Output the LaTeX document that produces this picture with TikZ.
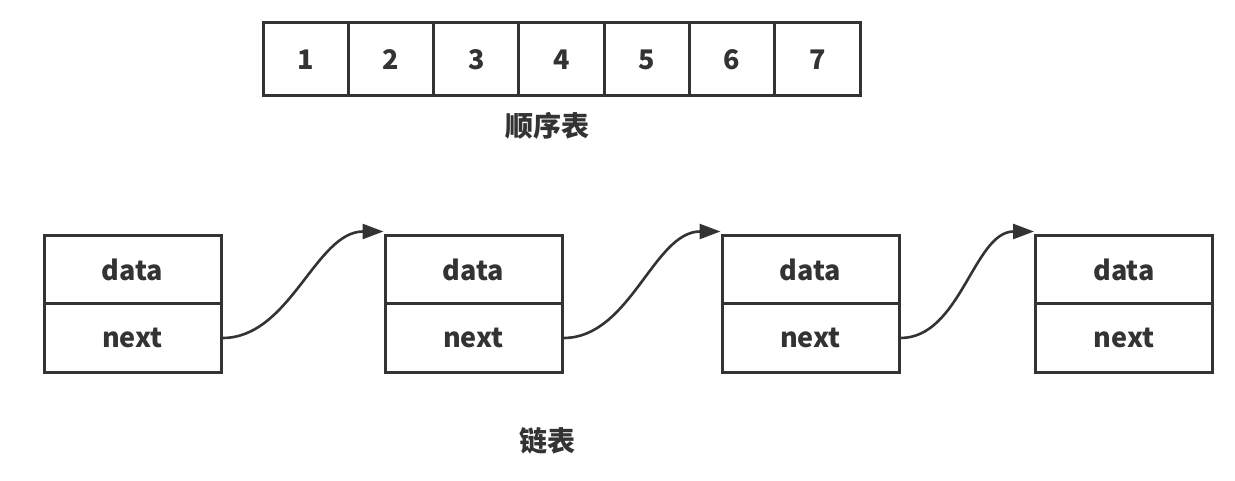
\documentclass[tikz,border=0pt]{standalone}
\usepackage{fontspec}
\setmainfont{Noto Sans CJK SC}
\usetikzlibrary{arrows.meta}
\definecolor{ink}{HTML}{333333}
\begin{document}
\begin{tikzpicture}[x=1pt,y=-1pt,
  txt/.style={font=\fontsize{27}{31}\selectfont\bfseries, text=ink},
  cjk/.style={font=\fontsize{28}{32}\selectfont\bfseries, text=ink},
  cell/.style={draw=ink, line width=3pt, txt, minimum width=85.3pt, minimum height=73pt, inner sep=0pt, anchor=center},
  field/.style={draw=ink, line width=3pt, txt, minimum width=177pt, minimum height=68pt, inner sep=0pt, anchor=center},
  link/.style={draw=ink, line width=2.6pt, -{Triangle[length=21pt,width=15pt]}},
  lbl/.style={cjk, inner sep=0pt}]
\useasboundingbox (0,0) rectangle (1235,481);
% sequential table
\foreach \i in {1,...,7}{
  \node[cell] (a\i) at ({263+85.3*(\i-0.5)},59.5) {\i};
}
\node[lbl] (seq) at (547,126) {顺序表};
% linked list nodes
\foreach \n/\cx in {1/132.5, 2/473.5, 3/810.5, 4/1124}{
  \node[field] (d\n) at (\cx,270) {data};
  \node[field] (n\n) at (\cx,338) {next};
}
\foreach \a/\b in {1/2, 2/3, 3/4}{
  \draw[link] (n\a.east) to[out=0,in=180,looseness=0.9] ([yshift=3pt]d\b.north west);
}
\node[lbl] (ll) at (547,441) {链表};
\end{tikzpicture}
\end{document}
